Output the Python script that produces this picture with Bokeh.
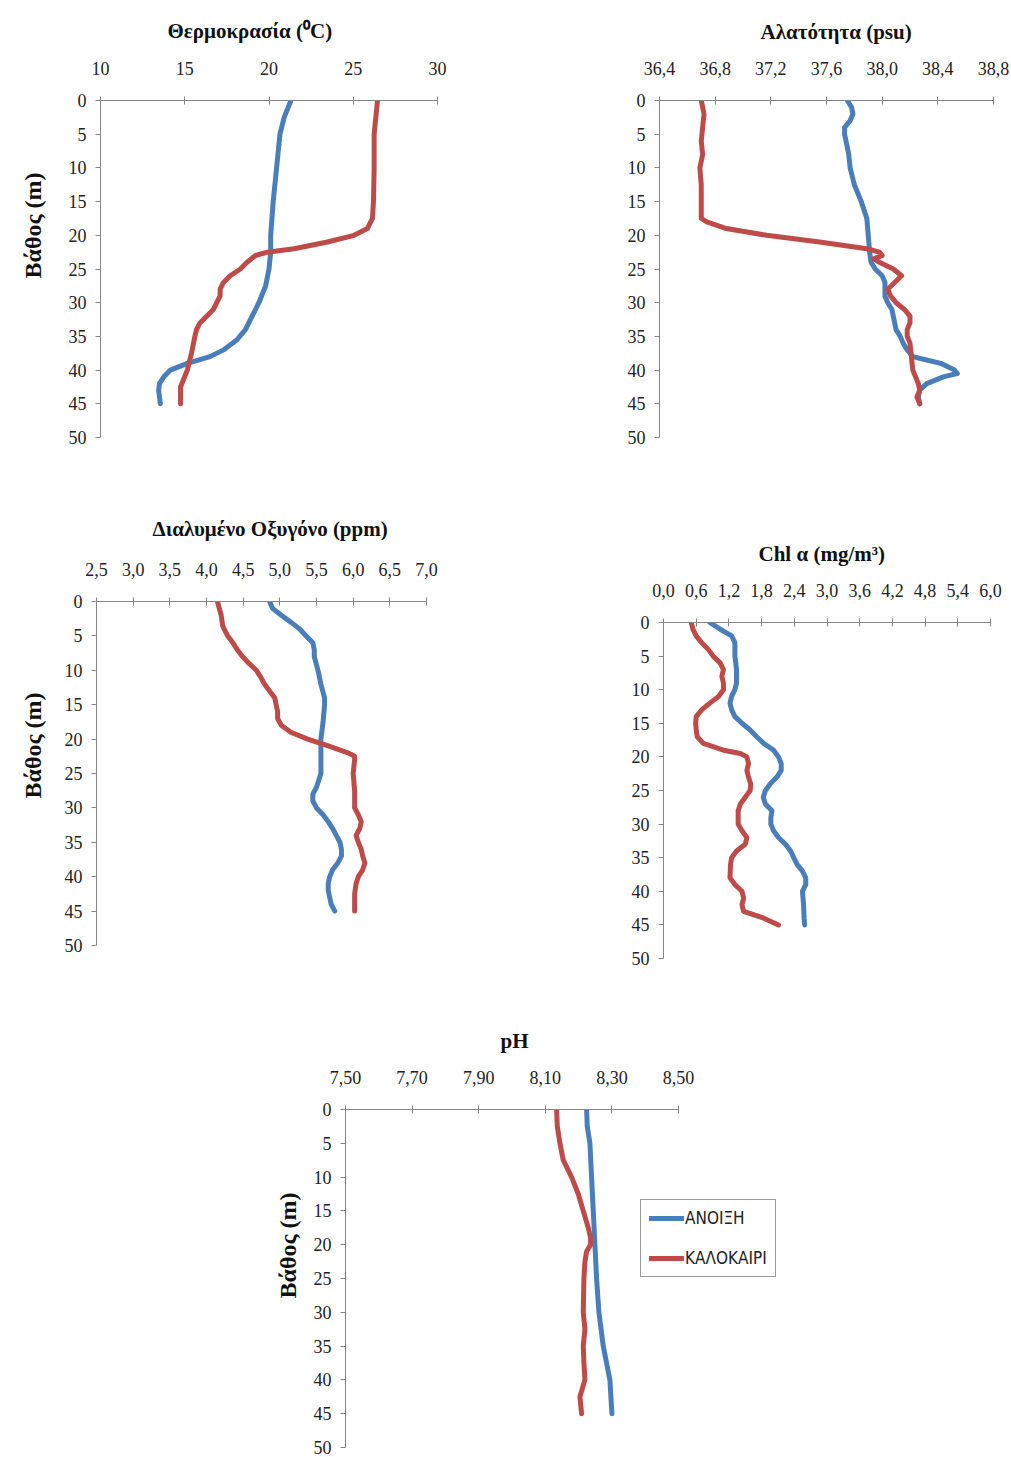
import math
from bokeh.plotting import figure
from bokeh.models import (Range1d, FixedTicker, CustomJSTickFormatter, Title, Legend, LegendItem)
from bokeh.layouts import column, row
from bokeh.embed import file_html
from bokeh.resources import INLINE

# ---------------- data ----------------
series_names = ["ΑΝΟΙΞΗ", "ΚΑΛΟΚΑΙΡΙ"]
depth_ticks = [0, 5, 10, 15, 20, 25, 30, 35, 40, 45, 50]
depth_label = "Βάθος (m)"

# Temperature (°C)
temp_title = "Θερμοκρασία (⁰C)"
temp_spring_depth = [0, 2.5, 5, 10, 15, 20, 22.5, 25, 27.5, 30, 32, 34, 35.5, 37, 38, 39, 40, 41, 42, 43, 45]
temp_spring = [21.3, 20.9, 20.65, 20.45, 20.25, 20.1, 20.1, 20.0, 19.8, 19.4, 19.0, 18.6, 18.1, 17.3, 16.5, 15.15, 14.15, 13.76, 13.5, 13.45, 13.55]
temp_summer_depth = [0, 2.5, 5, 10, 15, 17.5, 19, 20, 21, 22, 22.5, 23, 24, 25, 26, 27, 28, 29, 30, 31, 32, 33, 34, 35, 37.5, 40, 42.5, 45]
temp_summer = [26.44, 26.34, 26.24, 26.24, 26.2, 26.14, 25.84, 25.05, 23.47, 21.49, 19.9, 19.2, 18.7, 18.3, 17.7, 17.3, 17.1, 17.1, 16.9, 16.7, 16.3, 15.9, 15.7, 15.6, 15.4, 15.15, 14.75, 14.75]
temp_ticks = [10, 15, 20, 25, 30]

# Salinity (psu)
sal_title = "Αλατότητα (psu)"
sal_spring_depth = [0, 1, 2, 3, 4, 5, 6, 8, 10, 12.5, 15, 17.5, 20, 22.5, 24, 25, 26, 27, 28, 29, 30, 31, 32, 33, 34, 35, 36, 37, 38, 38.5, 39, 40, 40.5, 41, 42, 43, 44, 45]
sal_spring = [37.75, 37.78, 37.79, 37.77, 37.73, 37.73, 37.74, 37.76, 37.77, 37.80, 37.85, 37.89, 37.90, 37.91, 37.92, 37.95, 38.0, 38.02, 38.02, 38.02, 38.04, 38.07, 38.08, 38.09, 38.10, 38.13, 38.15, 38.18, 38.22, 38.32, 38.42, 38.52, 38.54, 38.44, 38.32, 38.27, 38.26, 38.27]
sal_summer_depth = [0, 2, 4, 6, 8, 10, 12.5, 15, 17.5, 18, 19, 20, 21, 22, 22.5, 23, 23.5, 24, 25, 26, 27, 28, 29, 30, 31, 32, 33, 34, 35, 36, 38, 40, 42, 43, 44, 45]
sal_summer = [36.70, 36.72, 36.71, 36.70, 36.71, 36.69, 36.70, 36.70, 36.70, 36.74, 36.88, 37.17, 37.55, 37.89, 37.98, 38.00, 37.94, 37.98, 38.08, 38.14, 38.09, 38.04, 38.06, 38.10, 38.16, 38.20, 38.20, 38.18, 38.18, 38.20, 38.21, 38.22, 38.26, 38.27, 38.25, 38.27]
sal_ticks = [36.4, 36.8, 37.2, 37.6, 38.0, 38.4, 38.8]

# Dissolved oxygen (ppm)
do_title = "Διαλυμένο Οξυγόνο (ppm)"
do_spring_depth = [0, 1, 2, 3, 4, 5, 6, 7, 8, 10, 12, 14, 15, 17.5, 20, 22.5, 25, 27, 28, 29, 30, 31, 32, 33, 34, 35, 36, 37, 38, 39, 40, 41, 42, 43, 44, 45]
do_spring = [4.86, 4.90, 5.02, 5.15, 5.27, 5.36, 5.45, 5.47, 5.47, 5.52, 5.56, 5.61, 5.61, 5.59, 5.56, 5.56, 5.56, 5.50, 5.45, 5.45, 5.50, 5.59, 5.66, 5.72, 5.77, 5.82, 5.84, 5.84, 5.79, 5.72, 5.68, 5.66, 5.66, 5.68, 5.70, 5.75]
do_summer_depth = [0, 2, 3.5, 4, 5, 6, 7, 8, 9, 10, 11, 12, 13, 14, 15, 16, 17, 18, 19, 20, 21, 22, 22.5, 23, 25, 27.5, 30, 31, 32, 33, 34, 35, 36, 37, 38, 39, 40, 41, 42.5, 45]
do_summer = [4.15, 4.20, 4.22, 4.24, 4.29, 4.36, 4.42, 4.49, 4.58, 4.68, 4.74, 4.79, 4.86, 4.93, 4.95, 4.97, 4.97, 5.02, 5.15, 5.38, 5.66, 5.93, 6.02, 6.02, 6.00, 6.02, 6.02, 6.07, 6.11, 6.09, 6.04, 6.07, 6.11, 6.13, 6.16, 6.13, 6.07, 6.04, 6.02, 6.02]
do_ticks = [2.5, 3.0, 3.5, 4.0, 4.5, 5.0, 5.5, 6.0, 6.5, 7.0]

# Chlorophyll a (mg/m3)
chl_title = "Chl  α (mg/m³)"
chl_spring_depth = [0, 1, 2, 3, 5, 7, 9, 10, 11, 12, 13, 14, 15, 16, 17, 18, 19, 20, 21, 22, 23, 24, 25, 26, 27, 28, 29, 30, 31, 32, 33, 34, 35, 36, 37, 38, 39, 40, 42, 44, 45]
chl_spring = [0.85, 1.04, 1.25, 1.31, 1.31, 1.34, 1.34, 1.31, 1.25, 1.22, 1.25, 1.31, 1.44, 1.59, 1.71, 1.84, 2.02, 2.11, 2.16, 2.16, 2.08, 1.96, 1.87, 1.83, 1.87, 1.99, 1.97, 1.97, 2.02, 2.11, 2.24, 2.33, 2.39, 2.45, 2.55, 2.61, 2.61, 2.55, 2.57, 2.58, 2.59]
chl_summer_depth = [0, 1, 2, 3, 4, 5, 6, 7, 8, 9, 10, 11, 12, 13, 14, 15, 16, 17, 18, 19, 19.5, 20, 21, 22, 23, 24, 25, 26, 27, 28, 30, 31, 32, 33, 34, 35, 36, 38, 39, 40, 41, 42, 43, 44, 45]
chl_summer = [0.51, 0.54, 0.60, 0.70, 0.82, 0.91, 1.04, 1.10, 1.07, 1.10, 1.10, 1.01, 0.85, 0.70, 0.60, 0.59, 0.60, 0.62, 0.73, 1.10, 1.41, 1.53, 1.56, 1.53, 1.56, 1.60, 1.59, 1.50, 1.41, 1.37, 1.37, 1.44, 1.53, 1.50, 1.34, 1.25, 1.23, 1.22, 1.31, 1.44, 1.47, 1.44, 1.47, 1.84, 2.11]
chl_ticks = [0.0, 0.6, 1.2, 1.8, 2.4, 3.0, 3.6, 4.2, 4.8, 5.4, 6.0]

# pH
ph_title = "pH"
ph_spring_depth = [0, 2.5, 5, 10, 15, 20, 25, 30, 35, 40, 45]
ph_spring = [8.224, 8.226, 8.234, 8.239, 8.244, 8.249, 8.254, 8.261, 8.274, 8.294, 8.30]
ph_summer_depth = [0, 2.5, 5, 7.5, 10, 12.5, 15, 17.5, 19, 20, 21, 22.5, 25, 30, 32.5, 35, 37.5, 40, 42.5, 45]
ph_summer = [8.134, 8.136, 8.144, 8.154, 8.179, 8.199, 8.214, 8.229, 8.236, 8.236, 8.224, 8.219, 8.216, 8.214, 8.219, 8.214, 8.216, 8.219, 8.204, 8.209]
ph_ticks = [7.5, 7.7, 7.9, 8.1, 8.3, 8.5]

# ---------------- styling ----------------
BLUE = "#4A7EBB"
RED = "#BE4B48"
AXIS_COL = "#868686"
SERIF = "Liberation Serif"


def make_panel(width, height, bl, br, bt, bb, ticks, decimals, title, title_offset, title_standoff,
               ylabel=None, ylabel_offset=0, ylabel_standoff=10, ylabel_valign="bottom", x_end=None):
    xr_end = ticks[-1] if x_end is None else x_end
    p = figure(width=width, height=height, x_axis_location="above",
               x_range=Range1d(ticks[0], xr_end), y_range=Range1d(50, 0),
               output_backend="svg", toolbar_location=None,
               min_border_left=bl, min_border_right=br, min_border_top=bt, min_border_bottom=bb)
    p.outline_line_color = None
    p.xgrid.visible = False
    p.ygrid.visible = False
    p.background_fill_color = "white"
    p.border_fill_color = "white"

    xa = p.xaxis[0]
    xa.ticker = FixedTicker(ticks=ticks, minor_ticks=[])
    xa.bounds = (ticks[0], ticks[-1])
    xa.formatter = CustomJSTickFormatter(args=dict(d=decimals),
                                         code="return tick.toFixed(d).replace('.', ',');")
    xa.major_tick_in = 4
    xa.major_tick_out = 4
    xa.minor_tick_line_color = None
    xa.axis_line_color = AXIS_COL
    xa.major_tick_line_color = AXIS_COL
    xa.major_label_text_font = SERIF
    xa.major_label_text_font_size = "18px"
    xa.major_label_text_color = "#222222"
    xa.major_label_standoff = 22

    ya = p.yaxis[0]
    ya.ticker = FixedTicker(ticks=depth_ticks, minor_ticks=[])
    ya.major_tick_in = 0
    ya.major_tick_out = 5
    ya.minor_tick_line_color = None
    ya.axis_line_color = AXIS_COL
    ya.major_tick_line_color = AXIS_COL
    ya.major_label_text_font = SERIF
    ya.major_label_text_font_size = "18px"
    ya.major_label_text_color = "#222222"
    ya.major_label_standoff = 9

    p.title.text = title
    p.title.align = "left"
    p.title.offset = title_offset
    p.title.standoff = title_standoff
    p.title.text_font = SERIF
    p.title.text_font_size = "21px"
    p.title.text_font_style = "bold"
    p.title.text_color = "#111111"

    if ylabel:
        t = Title(text=ylabel, align="left", offset=ylabel_offset, standoff=ylabel_standoff,
                  vertical_align=ylabel_valign,
                  text_font=SERIF, text_font_size="24px", text_font_style="bold",
                  text_color="#111111")
        p.add_layout(t, "left")
    return p


def add_lines(p, xs1, ys1, xs2, ys2):
    r1 = p.line(xs1, ys1, line_color=BLUE, line_width=5, line_join="round", line_cap="round")
    r2 = p.line(xs2, ys2, line_color=RED, line_width=5, line_join="round", line_cap="round")
    return r1, r2


p1 = make_panel(505, 470, 100, 68, 100, 33, temp_ticks, 0, temp_title, 67, 31,
                depth_label, 159, 35, "top")
add_lines(p1, temp_spring, temp_spring_depth, temp_summer, temp_summer_depth)

p2 = make_panel(506, 470, 154, 18, 100, 33, sal_ticks, 1, sal_title, 101, 30)
add_lines(p2, sal_spring, sal_spring_depth, sal_summer, sal_summer_depth)

p3 = make_panel(505, 520, 96, 79, 131, 45, do_ticks, 1, do_title, 56, 38,
                depth_label, 147, 31, "bottom")
add_lines(p3, do_spring, do_spring_depth, do_summer, do_summer_depth)

p4 = make_panel(506, 520, 158, 21, 152, 32, chl_ticks, 1, chl_title, 95, 30)
add_lines(p4, chl_spring, chl_spring_depth, chl_summer, chl_summer_depth)

# pH panel: frame widened to the right so the legend (inside the frame) is not clipped;
# the axis itself is bounded to the tick range.
p5_left, p5_right_border, p5_data_px = 345, 150, 333
p5_frame_w = 1011 - p5_left - p5_right_border
p5_x_end = ph_ticks[0] + (ph_ticks[-1] - ph_ticks[0]) * p5_frame_w / p5_data_px
p5 = make_panel(1011, 467, p5_left, p5_right_border, 119, 10, ph_ticks, 2, ph_title, 155, 30,
                depth_label, 149, 20, "bottom", x_end=p5_x_end)
r1, r2 = add_lines(p5, ph_spring, ph_spring_depth, ph_summer, ph_summer_depth)

legend = Legend(items=[LegendItem(label=series_names[0], renderers=[r1]),
                       LegendItem(label=series_names[1], renderers=[r2])],
                location=(295, 170))
legend.label_text_font = "'Liberation Sans Narrow', 'DejaVu Sans Condensed', sans-serif"
legend.label_text_font_size = "17px"
legend.label_text_color = "#222222"
legend.border_line_color = "#333333"
legend.border_line_width = 1.3
legend.background_fill_color = "white"
legend.background_fill_alpha = 1.0
legend.glyph_width = 35
legend.glyph_height = 20
legend.label_height = 20
legend.spacing = 20
legend.padding = 8
legend.margin = 0
legend.label_standoff = 1
p5.add_layout(legend)

layout = column(row(column(p1), column(p2)), row(column(p3), column(p4)), p5)

with open("out.html", "w") as f:
    f.write(file_html(layout, INLINE))
